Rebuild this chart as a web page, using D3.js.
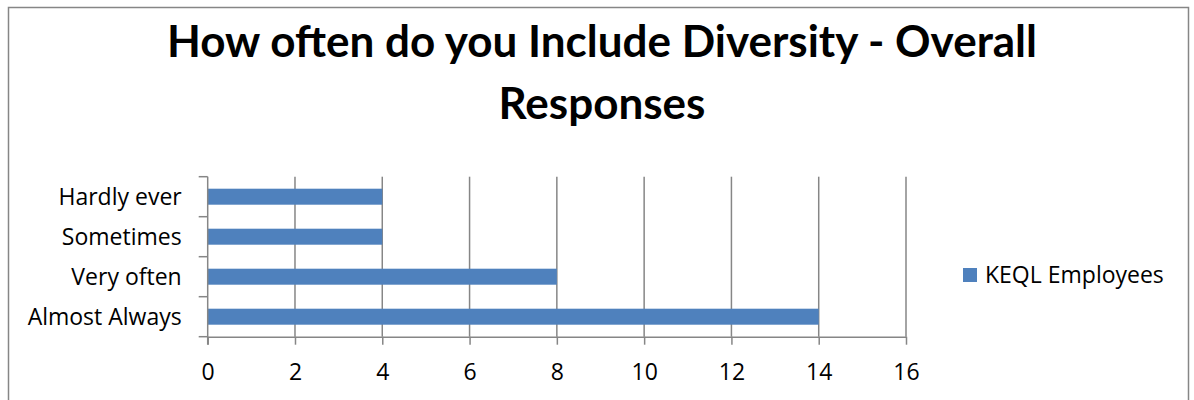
<!DOCTYPE html>
<html>
<head>
<meta charset="utf-8">
<script src="https://cdn.jsdelivr.net/npm/d3@7"></script>
<style>
  html, body { margin: 0; padding: 0; background: #fff; }
  svg { display: block; }
</style>
</head>
<body>
<svg id="chart" width="1194" height="400"></svg>
<script>
// Survey responses: how often diversity is included
const categories = ["Almost Always", "Very often", "Sometimes", "Hardly ever"];
const values = [14, 8, 4, 4];
const seriesName = "KEQL Employees";
const xTicks = [0, 2, 4, 6, 8, 10, 12, 14, 16];
const titleLines = ["How often do you Include Diversity - Overall", "Responses"];

const svg = d3.select("#chart");
const barColor = "#4F81BD";
const lineColor = "#868686";
const labelFont = "'Open Sans', sans-serif";
const labelSize = 23;

// Chart frame
svg.append("rect")
  .attr("x", 8.5).attr("y", 7.5)
  .attr("width", 1180).attr("height", 420)
  .attr("fill", "#fff")
  .attr("stroke", lineColor).attr("stroke-width", 1.5);

// Title
const title = svg.append("g");
titleLines.forEach((t, i) => {
  title.append("text")
    .attr("x", 602).attr("y", 57 + i * 61.5)
    .attr("text-anchor", "middle")
    .attr("font-family", "Lato, sans-serif")
    .attr("font-weight", "bold")
    .attr("font-size", 44)
    .attr("fill", "#000")
    .text(t);
});

// Plot area
const plot = { left: 207.7, right: 906, top: 176.7, bottom: 336.7 };

const x = d3.scaleLinear().domain([0, 16]).range([plot.left, plot.right]);
const y = d3.scaleBand()
  .domain(categories.slice().reverse())
  .range([plot.top, plot.bottom])
  .paddingInner(0.6)
  .paddingOuter(0.3);

// Vertical gridlines
svg.append("g")
  .selectAll("line")
  .data(xTicks.filter(d => d > 0))
  .join("line")
  .attr("x1", d => x(d)).attr("x2", d => x(d))
  .attr("y1", plot.top).attr("y2", plot.bottom)
  .attr("stroke", lineColor).attr("stroke-width", 1.5);

// Bars
svg.append("g")
  .selectAll("rect")
  .data(categories.map((c, i) => ({ c, v: values[i] })))
  .join("rect")
  .attr("x", x(0))
  .attr("y", d => y(d.c))
  .attr("width", d => x(d.v) - x(0))
  .attr("height", y.bandwidth())
  .attr("fill", barColor);

// X axis
const xAxis = svg.append("g")
  .attr("transform", `translate(0,${plot.bottom})`)
  .call(d3.axisBottom(x).tickValues(xTicks).tickSize(8).tickPadding(19).tickSizeOuter(0));
xAxis.select(".domain").attr("stroke", lineColor).attr("stroke-width", 1.5);
xAxis.selectAll(".tick line").attr("stroke", lineColor).attr("stroke-width", 1.5);
xAxis.selectAll(".tick text")
  .attr("font-family", labelFont).attr("font-size", labelSize).attr("fill", "#000");

// Y axis with tick marks on band boundaries
const yAxis = svg.append("g").attr("transform", `translate(${plot.left},0)`);
yAxis.append("line")
  .attr("x1", 0).attr("x2", 0)
  .attr("y1", plot.top).attr("y2", plot.bottom + 8)
  .attr("stroke", lineColor).attr("stroke-width", 1.5);
const bounds = d3.range(categories.length + 1).map(i => plot.top + i * (plot.bottom - plot.top) / categories.length);
yAxis.selectAll("line.tk")
  .data(bounds)
  .join("line")
  .attr("class", "tk")
  .attr("x1", -9).attr("x2", 0)
  .attr("y1", d => d).attr("y2", d => d)
  .attr("stroke", lineColor).attr("stroke-width", 1.5);
yAxis.selectAll("text")
  .data(categories)
  .join("text")
  .attr("x", -26)
  .attr("y", d => y(d) + y.bandwidth() / 2)
  .attr("dy", "0.36em")
  .attr("text-anchor", "end")
  .attr("font-family", labelFont).attr("font-size", labelSize).attr("fill", "#000")
  .text(d => d);

// Legend
const legend = svg.append("g").attr("transform", "translate(963,268)");
legend.append("rect")
  .attr("width", 14).attr("height", 14)
  .attr("fill", barColor);
legend.append("text")
  .attr("x", 22).attr("y", 7)
  .attr("dy", "0.36em")
  .attr("font-family", labelFont).attr("font-size", labelSize).attr("fill", "#000")
  .text(seriesName);
</script>
</body>
</html>
